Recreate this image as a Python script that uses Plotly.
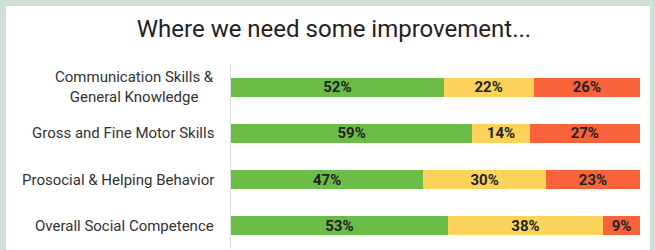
import plotly.graph_objects as go

categories = ["Communication Skills &<br>General Knowledge",
              "Gross and Fine Motor Skills",
              "Prosocial & Helping Behavior",
              "Overall Social Competence"]
green_vals = [52, 59, 47, 53]
yellow_vals = [22, 14, 30, 38]
red_vals = [26, 27, 23, 9]
title_text = "Where we need some improvement..."

W, H = 655, 250
ML, MR, MT, MB = 231, 15, 64, 1
pw = W - ML - MR
ph = H - MT - MB

fig = go.Figure()
for vals, col in [(green_vals, "#6bbd47"), (yellow_vals, "#fbd35a"), (red_vals, "#f9623a")]:
    fig.add_trace(go.Bar(
        y=categories, x=vals, orientation="h",
        marker=dict(color=col, line=dict(width=0)),
        text=[f"<b>{v}%</b>" for v in vals],
        textposition="inside", insidetextanchor="middle",
        textangle=0, constraintext="none",
        textfont=dict(family="Roboto", size=15, color="#222222"),
        hoverinfo="skip", showlegend=False,
    ))

for c in categories:
    fig.add_annotation(x=0, xref="paper", y=c, yref="y", text=c,
                       xanchor="right", yanchor="middle", xshift=-15,
                       align="center", showarrow=False,
                       font=dict(family="Roboto", size=15, color="#333333"))

fig.add_shape(type="rect", xref="paper", yref="paper",
              x0=(6 - ML) / pw, x1=(650 - ML) / pw,
              y0=-0.2, y1=(H - MB - 6) / ph,
              fillcolor="white", line=dict(width=0), layer="below")

fig.update_layout(
    width=W, height=H,
    barmode="stack", bargap=0.59,
    margin=dict(l=ML, r=MR, t=MT, b=MB),
    paper_bgcolor="#d1e0d5", plot_bgcolor="white",
    title=dict(text=title_text, x=334 / W, xanchor="center", xref="container",
               y=1 - 29 / H, yanchor="middle", yref="container",
               font=dict(family="Roboto", size=24, color="#222222")),
    xaxis=dict(visible=False, range=[0, 100], fixedrange=True),
    yaxis=dict(range=[3.5, -0.5], showticklabels=False, showline=True,
               linecolor="#dcdcdc", linewidth=1, showgrid=False,
               zeroline=False, ticks="", fixedrange=True),
)

fig.write_html("out.html", config={"displayModeBar": False},
               post_script="document.body.style.margin='0';document.body.style.overflow='hidden';")
